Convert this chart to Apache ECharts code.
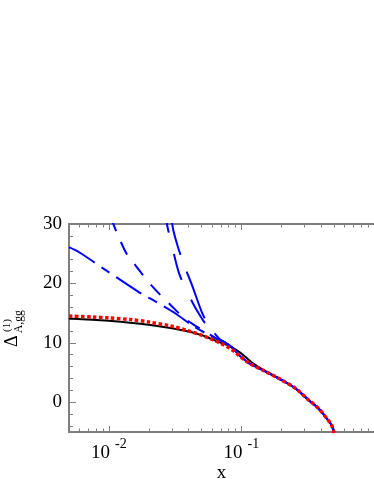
<!DOCTYPE html>
<html><head><meta charset="utf-8">
<script src="https://cdn.jsdelivr.net/npm/echarts@6/dist/echarts.min.js"></script>
<style>html,body{margin:0;padding:0;background:#fff}#c{width:374px;height:484px}</style>
</head><body><div id="c"></div>
<script>
// ---- data ----
const xMajorTicks = [0.01, 0.1, 1];
const xLabelTicks = [0.01, 0.1];
const xMinorTicks = [0.005,0.006,0.007,0.008,0.009,0.02,0.03,0.04,0.05,0.06,0.07,0.08,0.09,0.2,0.3,0.4,0.5,0.6,0.7,0.8,0.9];
const yLabelTicks = [0, 10, 20, 30];
const yMinorTicks = [-4,-2,2,4,6,8,12,14,16,18,22,24,26,28];

const blackX = [0.005,0.0075,0.01,0.015,0.02,0.03,0.04,0.05,0.06,0.07,0.08,0.09,0.1,0.11,0.12,0.145,0.19,0.255,0.32,0.38,0.44,0.478,0.5];
const blackY = [14.1,13.9,13.7,13.35,13.05,12.45,11.9,11.3,10.6,10.0,9.5,8.9,8.2,7.4,6.7,5.5,4.05,2.35,0.4,-1.0,-2.7,-3.8,-5.2];

const redX = [0.005,0.0075,0.01,0.015,0.02,0.03,0.04,0.05,0.06,0.07,0.08,0.09,0.1,0.115,0.145,0.19,0.255,0.32,0.38,0.44,0.478,0.5];
const redY = [14.5,14.35,14.2,13.9,13.5,12.8,12.0,11.3,10.6,9.9,9.2,8.4,7.5,6.55,5.4,4.05,2.36,0.4,-1.0,-2.7,-3.8,-5.2];

const tailX = [0.075,0.085,0.1,0.115,0.145,0.19,0.255,0.32,0.38,0.44,0.478,0.5];
const tailY = [10.1,9.2,7.6,6.5,5.4,4.05,2.36,0.4,-1.0,-2.7,-3.8,-5.2];

const blueAX = [0.0288,0.0296,0.0306,0.033,0.0366,0.0427,0.0506,0.058,0.0687];
const blueAY = [33,31,29,26.3,23.3,19.5,15.0,12.6,10.6];
const blueBX = [0.0262,0.0274,0.0303,0.0339,0.041,0.048,0.056,0.0675];
const blueBY = [33,30,25.8,21.65,17.56,14.8,12.6,10.6];
const blueCX = [0.0104,0.0108,0.01213,0.0136,0.01566,0.01807,0.02084,0.02484,0.02944,0.03597,0.04266,0.0551,0.0676];
const blueCY = [31,30,27.3,25.0,23.2,21.4,19.7,17.9,16.3,14.4,13.2,11.7,10.5];
const blueDX = [0.005,0.006,0.00966,0.0132,0.01754,0.0227,0.032,0.0426,0.055,0.0676];
const blueDY = [26.1,25.2,22.1,20.1,18.3,16.9,14.9,12.9,11.5,10.5];

// ---- build ----
const zip = (xs, ys) => xs.map((x, i) => [x, ys[i]]);
const withTail = (xs, ys) => zip(xs, ys).concat(zip(tailX, tailY));

const AX = '#7f7f7f';
const SERIF = "'Liberation Serif', 'DejaVu Serif', serif";
const X_MIN = 0.005, X_MAX = 1;

function xAx(pos, opts) {
  return Object.assign({
    type: 'log', logBase: 10, min: X_MIN, max: X_MAX, position: pos,
    axisLine: { show: false, onZero: false },
    axisTick: { show: false },
    axisLabel: { show: false },
    splitLine: { show: false }, minorTick: { show: false }
  }, opts);
}
function yAx(opts) {
  return Object.assign({
    type: 'value', min: -5, max: 30, position: 'left',
    axisLine: { show: false, onZero: false },
    axisTick: { show: false },
    axisLabel: { show: false },
    splitLine: { show: false }
  }, opts);
}

const xAxes = [
  xAx('bottom', {
    axisLine: { show: true, onZero: false, lineStyle: { color: AX, width: 2 } },
    axisTick: { show: true, inside: true, length: 6, customValues: xMajorTicks, lineStyle: { color: AX, width: 1 } },
    axisLabel: {
      show: true, margin: 12, customValues: xLabelTicks,
      formatter: v => '{b|10}{s|' + Math.round(Math.log10(v)) + '}',
      rich: {
        b: { fontSize: 19, fontFamily: SERIF, color: '#000', verticalAlign: 'bottom', lineHeight: 19 },
        s: { fontSize: 14, fontFamily: SERIF, color: '#000', verticalAlign: 'bottom', lineHeight: 14, padding: [0, 0, 12, 5] }
      }
    },
    name: 'x', nameLocation: 'middle', nameGap: 27,
    nameTextStyle: { fontSize: 19, fontFamily: SERIF, color: '#000', verticalAlign: 'top' }
  }),
  xAx('bottom', {
    axisTick: { show: true, inside: true, length: 3.5, customValues: xMinorTicks, lineStyle: { color: AX, width: 1 } }
  }),
  xAx('top', {
    axisLine: { show: true, onZero: false, lineStyle: { color: AX, width: 2 } },
    axisTick: { show: true, inside: true, length: 6, customValues: xMajorTicks, lineStyle: { color: AX, width: 1 } }
  }),
  xAx('top', {
    axisTick: { show: true, inside: true, length: 3.5, customValues: xMinorTicks, lineStyle: { color: AX, width: 1 } }
  })
];
const yAxes = [
  yAx({
    axisLine: { show: true, onZero: false, lineStyle: { color: AX, width: 2 } },
    axisTick: { show: true, inside: true, length: 7, customValues: yLabelTicks, lineStyle: { color: AX, width: 1 } },
    axisLabel: { show: true, margin: 7, customValues: yLabelTicks, fontSize: 19, fontFamily: SERIF, color: '#000' }
  }),
  yAx({
    axisTick: { show: true, inside: true, length: 4, customValues: yMinorTicks, lineStyle: { color: AX, width: 1 } }
  })
];

function blue(data, dash) {
  return {
    type: 'line', data, smooth: 0.3, symbol: 'none', clip: true, z: 3,
    lineStyle: { color: '#0000ff', width: 2, type: dash }
  };
}

const series = [
  { type: 'line', data: zip(blackX, blackY), smooth: 0.3, symbol: 'none', clip: true, z: 2,
    lineStyle: { color: '#000000', width: 2 } },
  blue(withTail(blueAX, blueAY), [50, 18]),
  blue(withTail(blueBX, blueBY), [27, 22]),
  blue(withTail(blueCX, blueCY), [14, 12]),
  blue(withTail(blueDX, blueDY), [30, 8, 10, 8]),
  { type: 'line', data: zip(redX, redY), smooth: 0.3, symbol: 'none', clip: true, z: 4,
    lineStyle: { color: '#ff0000', width: 3.5, type: [3.5, 2.5] } }
];

const chart = echarts.init(document.getElementById('c'), null, { renderer: 'canvas' });
chart.setOption({
  animation: false,
  backgroundColor: '#ffffff',
  grid: { left: 69, right: -6, top: 224, bottom: 52, containLabel: false },
  xAxis: xAxes,
  yAxis: yAxes,
  series,
  graphic: [{
    type: 'group', x: 12.5, y: 347, rotation: Math.PI / 2,
    children: [
      { type: 'text', x: 0, y: 0, style: { text: 'Δ', font: "18px " + SERIF, fill: '#000', align: 'left', verticalAlign: 'middle', textAlign: 'left', textVerticalAlign: 'middle' } },
      { type: 'text', x: 15, y: -5.5, style: { text: '(1)', font: "11px " + SERIF, fill: '#000', align: 'left', verticalAlign: 'middle', textAlign: 'left', textVerticalAlign: 'middle' } },
      { type: 'text', x: 14, y: 6.5, style: { text: 'A,gg', font: "11.5px " + SERIF, fill: '#000', align: 'left', verticalAlign: 'middle', textAlign: 'left', textVerticalAlign: 'middle' } }
    ]
  }]
});
</script>
</body></html>
